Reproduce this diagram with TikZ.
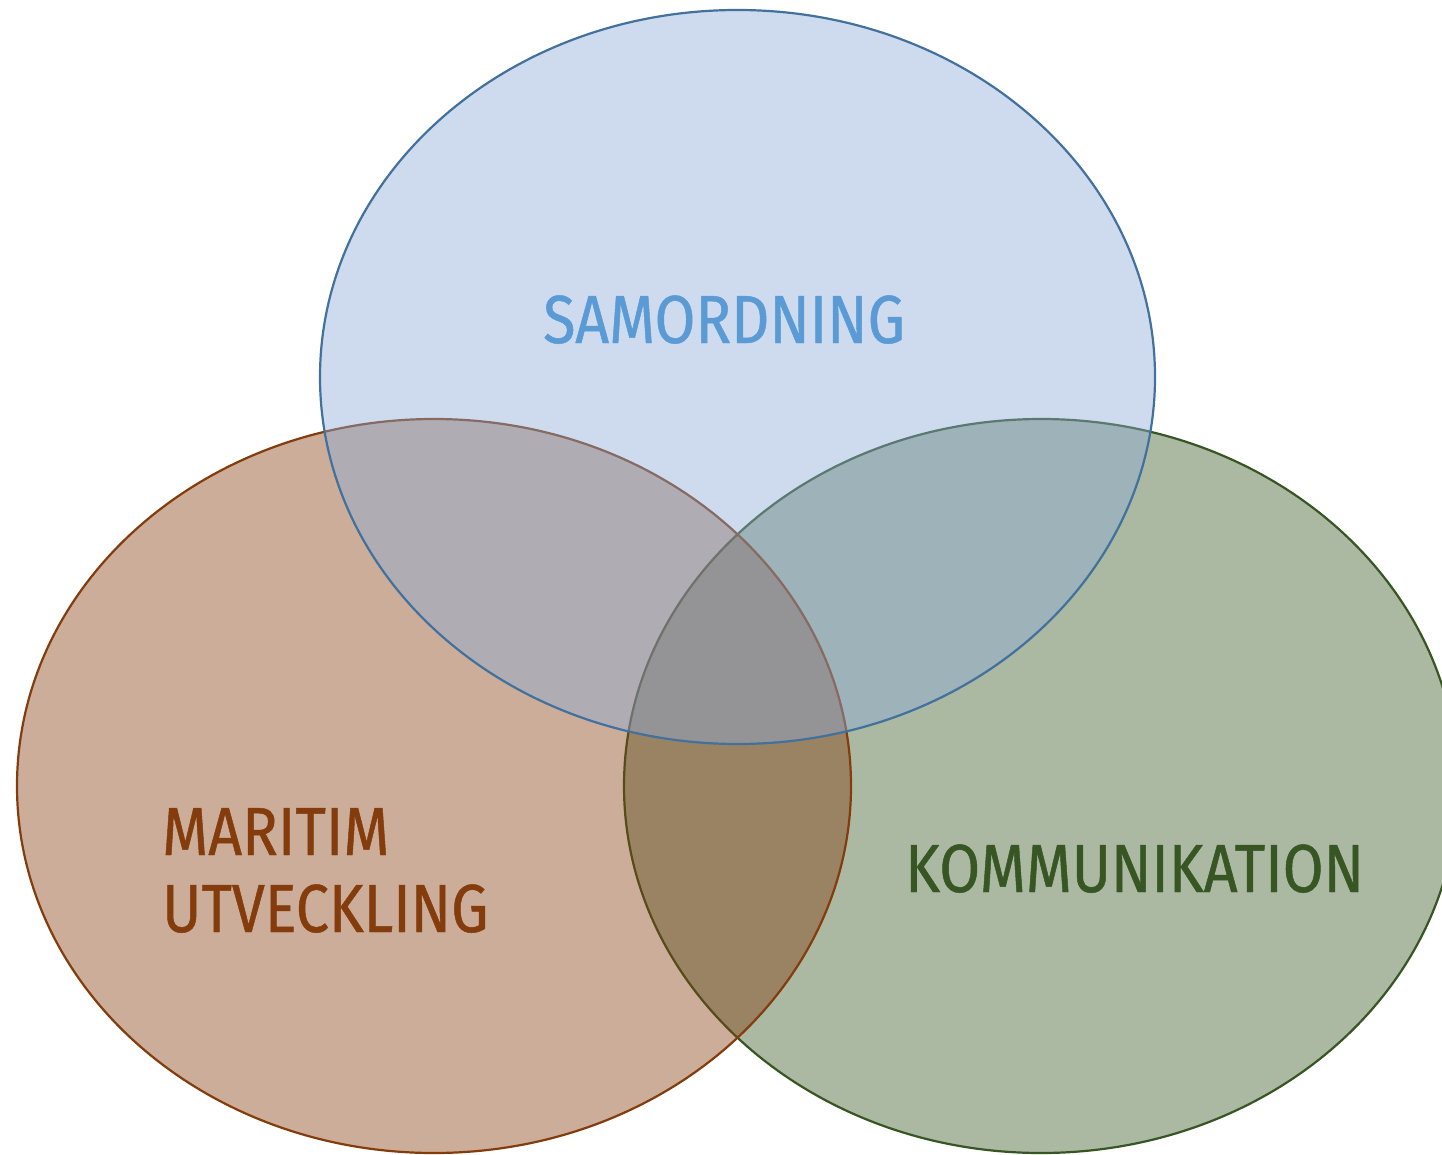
\documentclass[tikz,border=0pt]{standalone}
\usepackage{fontspec}
\setmainfont{Fira Sans}[UprightFeatures={FakeBold=0.7},FakeStretch=0.87]
\definecolor{topfill}{HTML}{8CABDB}
\definecolor{topline}{HTML}{41719C}
\definecolor{toptext}{HTML}{5B9BD5}
\definecolor{brown}{HTML}{843C0C}
\definecolor{green}{HTML}{375623}
\tikzset{
  venn/.style={line width=2.2pt, fill opacity=0.42},
  lbl/.style={anchor=base west, inner sep=0pt, font=\fontsize{68}{77}\selectfont}
}
\begin{document}
\begin{tikzpicture}[x=1pt,y=-1pt]
\useasboundingbox[fill=white] (0,0) rectangle (1442,1155);
\draw[venn, draw=green, fill=green] (1041,786) ellipse [x radius=417pt, y radius=367pt];
\draw[venn, draw=brown, fill=brown] (434,786) ellipse [x radius=417pt, y radius=367pt];
\draw[venn, draw=topline, fill=topfill] (737.5,377) ellipse [x radius=417.5pt, y radius=367pt];
\node[lbl, text=toptext] (sam) at (543,343) {SAMORDNING};
\node[lbl, text=brown] (mar) at (162,855) {MARITIM};
\node[lbl, text=brown] (utv) at (162,932) {UTVECKLING};
\node[lbl, text=green] (kom) at (905,892) {KOMMUNIKATION};
\end{tikzpicture}
\end{document}
